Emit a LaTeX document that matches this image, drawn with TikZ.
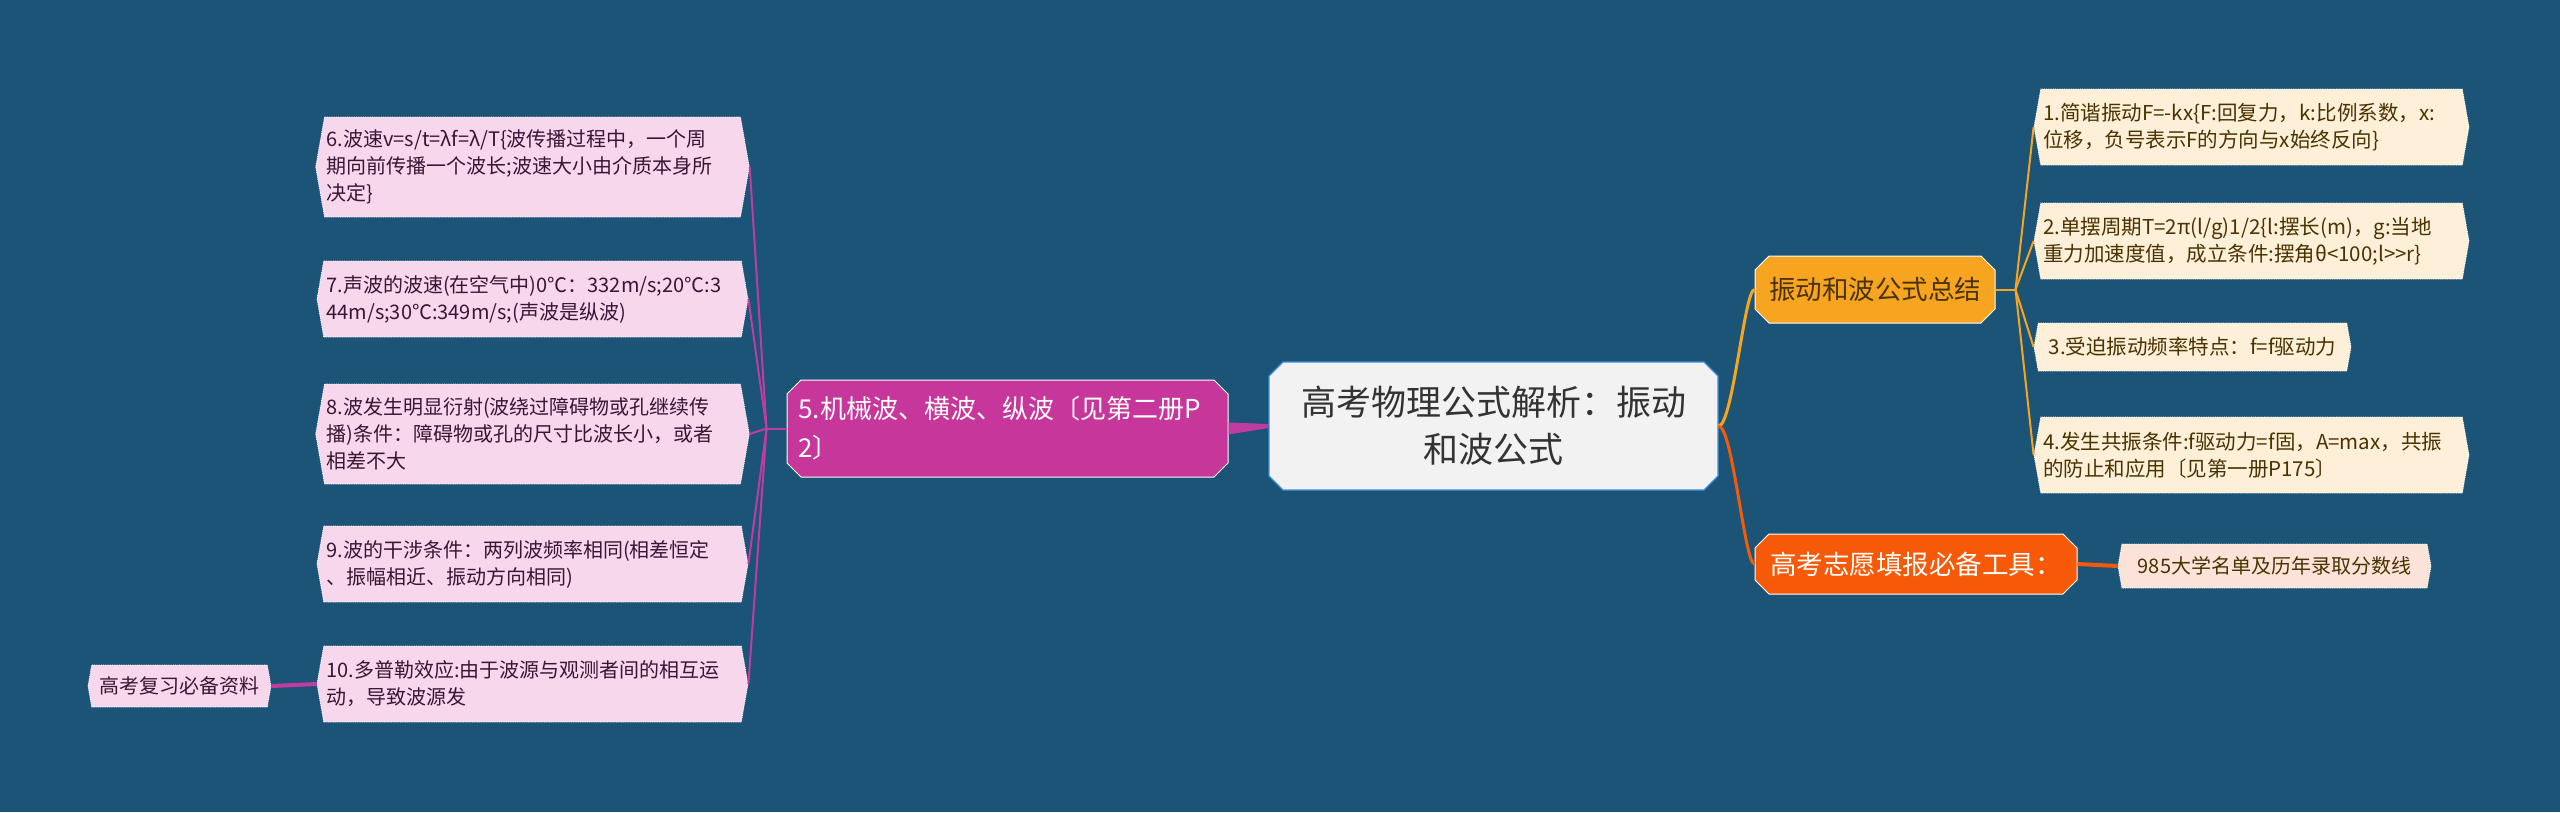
\documentclass[tikz,border=0pt]{standalone}
\usepackage{fontspec}
\newfontfamily\cjk{Noto Sans CJK SC}
\usetikzlibrary{shapes.misc, shapes.symbols}
\definecolor{bgblue}{HTML}{1B5476}
\definecolor{magnode}{HTML}{C7369A}
\definecolor{magline}{HTML}{C13C9F}
\definecolor{pinkleaf}{HTML}{F6D7EC}
\definecolor{orgnode}{HTML}{F7A521}
\definecolor{creamleaf}{HTML}{FDEFD8}
\definecolor{rednode}{HTML}{F65A08}
\definecolor{peachleaf}{HTML}{FCE3D9}
\definecolor{rootfill}{HTML}{F2F2F2}
\definecolor{rootdraw}{HTML}{3C8DDE}
\definecolor{pinktext}{HTML}{3A1535}
\definecolor{creamtext}{HTML}{4A3300}

\begin{document}
\begin{tikzpicture}[x=1pt, y=-1pt,
    every node/.style={font=\cjk, inner sep=0pt},
    root/.style={chamfered rectangle, chamfered rectangle xsep=7pt, chamfered rectangle ysep=7pt,
      fill=rootfill, draw=rootdraw, line width=1.2pt, align=center, text=black!80,
      font=\cjk\fontsize{35}{47}\selectfont},
    mainbox/.style={chamfered rectangle, chamfered rectangle xsep=7pt, chamfered rectangle ysep=7pt,
      draw=white, line width=1pt, align=left},
    leaf/.style={signal, signal to=west and east, signal pointer angle=160,
      draw=white, densely dotted, line width=0.8pt, align=left, inner xsep=2pt,
      font=\cjk\fontsize{20}{27}\selectfont},
    pinkbox/.style={leaf, fill=pinkleaf, text=pinktext},
    creambox/.style={leaf, fill=creamleaf, text=creamtext, font=\cjk\fontsize{20.5}{27}\selectfont},
    magwire/.style={draw=magline, line width=2pt},
    orgwire/.style={draw=orgnode, line width=2pt}]
  \useasboundingbox[fill=bgblue] (0,0) rectangle (2560,812);

  \node[root, minimum width=449pt, minimum height=128pt] (root) at (1493.5,426)
    {高考物理公式解析：振动\\和波公式};

  \node[mainbox, fill=magnode, text=white, minimum width=441pt, minimum height=97pt,
    text width=418pt, font=\cjk\fontsize{26}{39}\selectfont] (n5) at (1007.5,428.5)
    {5.机械波、横波、纵波〔见第二册P\\2〕};
  \node[mainbox, fill=orgnode, text=creamtext, minimum width=240pt, minimum height=67pt,
    font=\cjk\fontsize{26.5}{32}\selectfont] (sum) at (1875,289.5) {振动和波公式总结};
  \node[mainbox, fill=rednode, text=white, minimum width=322pt, minimum height=60pt,
    font=\cjk\fontsize{26.5}{32}\selectfont] (tool) at (1916,564) {高考志愿填报必备工具：};

  \node[pinkbox, minimum width=431pt, minimum height=100pt, text width=412pt] (l6) at (532.5,167)
    {6.波速v=s/t=λf=λ/T\{波传播过程中，一个周\\期向前传播一个波长;波速大小由介质本身所\\决定\}};
  \node[pinkbox, minimum width=431pt, minimum height=76pt, text width=412pt] (l7) at (532.5,299)
    {7.声波的波速(在空气中)0℃：332m/s;20℃:3\\44m/s;30℃:349m/s;(声波是纵波)};
  \node[pinkbox, minimum width=431pt, minimum height=100pt, text width=412pt] (l8) at (532.5,434)
    {8.波发生明显衍射(波绕过障碍物或孔继续传\\播)条件：障碍物或孔的尺寸比波长小，或者\\相差不大};
  \node[pinkbox, minimum width=431pt, minimum height=76pt, text width=412pt] (l9) at (532.5,564)
    {9.波的干涉条件：两列波频率相同(相差恒定\\、振幅相近、振动方向相同)};
  \node[pinkbox, minimum width=431pt, minimum height=76pt, text width=412pt] (l10) at (532.5,684)
    {10.多普勒效应:由于波源与观测者间的相互运\\动，导致波源发};
  \node[pinkbox, minimum width=183pt, minimum height=42pt] (extra) at (179.5,686) {高考复习必备资料};

  \node[creambox, minimum width=435pt, minimum height=76pt, text width=417pt] (l1) at (2251.5,127)
    {1.简谐振动F=-kx\{F:回复力，k:比例系数，x:\\位移，负号表示F的方向与x始终反向\}};
  \node[creambox, minimum width=435pt, minimum height=76pt, text width=417pt] (l2) at (2251.5,241)
    {2.单摆周期T=2π(l/g)1/2\{l:摆长(m)，g:当地\\重力加速度值，成立条件:摆角θ<100;l>>r\}};
  \node[creambox, minimum width=317pt, minimum height=48pt] (l3) at (2192.5,347)
    {3.受迫振动频率特点：f=f驱动力};
  \node[creambox, minimum width=435pt, minimum height=76pt, text width=417pt] (l4) at (2251.5,455)
    {4.发生共振条件:f驱动力=f固，A=max，共振\\的防止和应用〔见第一册P175〕};
  \node[leaf, fill=peachleaf, text=creamtext, minimum width=313pt, minimum height=44pt] (u985) at (2274.5,566)
    {985大学名单及历年录取分数线};

  \fill[magline] ([yshift=6pt]n5.east) -- ([yshift=2pt]root.west) -- ([yshift=-2pt]root.west)
    -- ([yshift=-6pt]n5.east) -- cycle;
  \coordinate (b5) at ([xshift=-20pt]n5.west);
  \draw[magwire] (n5.west) -- (b5);
  \foreach \n in {l6,l7,l8,l9,l10}
    \draw[magwire] (b5) -- (\n.east);
  \draw[magline, line width=4pt] (l10.west) -- (extra.east);

  \draw[orgnode, line width=3pt] (root.east) .. controls +(14,0) and +(-10,0) .. (sum.west);
  \draw[rednode, line width=3pt] (root.east) .. controls +(14,0) and +(-10,0) .. (tool.west);
  \coordinate (b1) at ([xshift=20pt]sum.east);
  \draw[orgwire] (sum.east) -- (b1);
  \foreach \n in {l1,l2,l3,l4}
    \draw[orgwire] (b1) -- (\n.west);
  \draw[rednode, line width=4pt] (tool.east) -- (u985.west);
\end{tikzpicture}
\end{document}
